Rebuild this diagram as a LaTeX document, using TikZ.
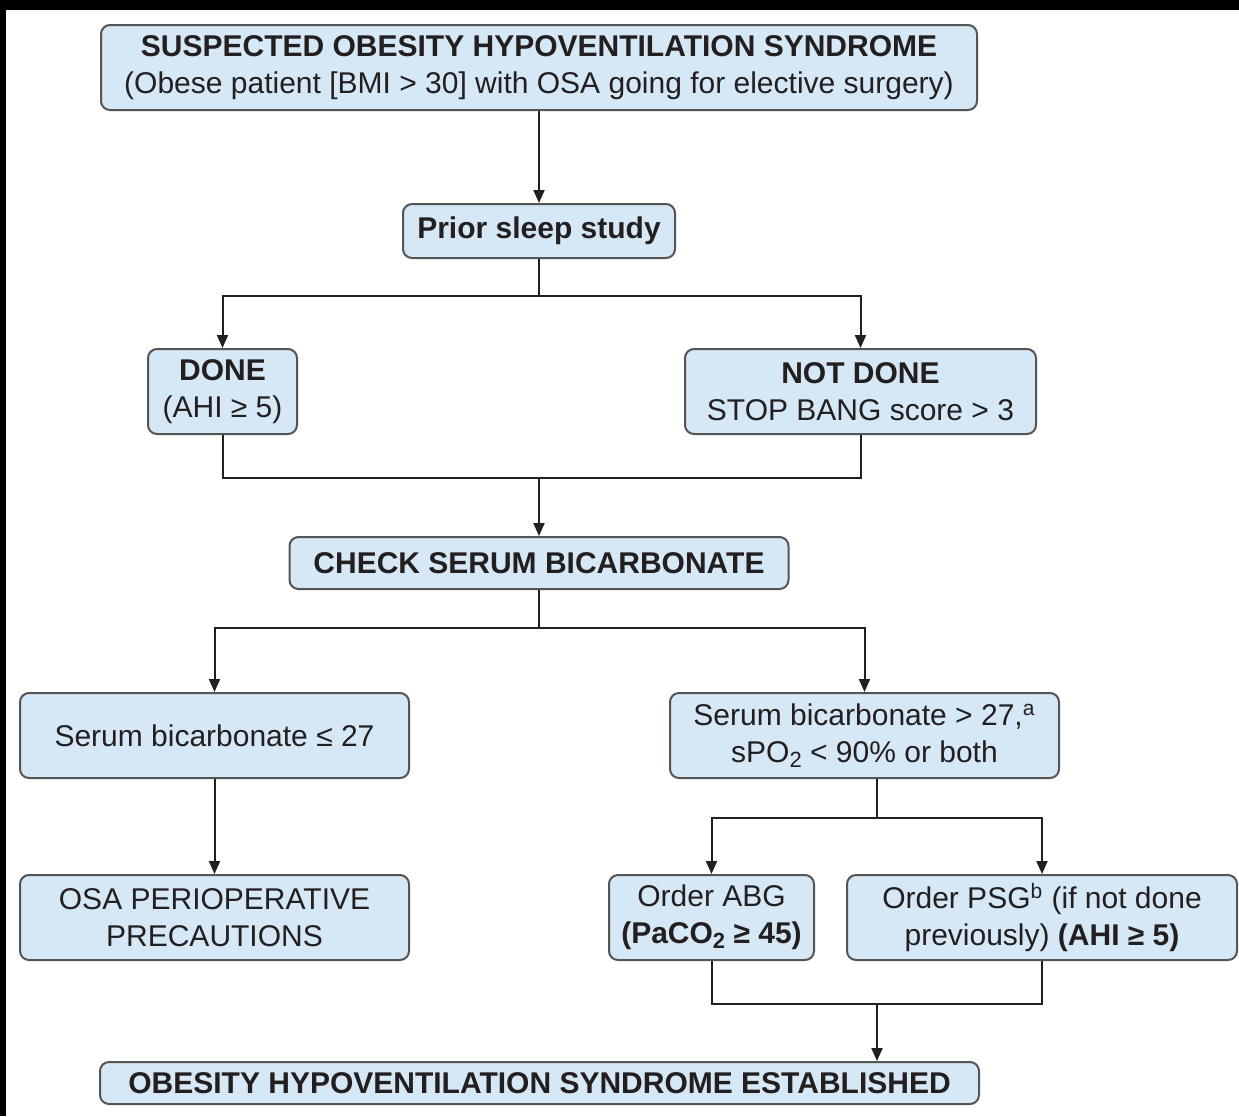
\documentclass[tikz,border=0pt]{standalone}
\usepackage{fontspec}
\setmainfont{Liberation Sans}
\usetikzlibrary{arrows.meta}
\definecolor{boxfill}{HTML}{D6E8F5}
\definecolor{boxline}{HTML}{555555}
\definecolor{ink}{HTML}{231F20}
\newcommand{\subtwo}{\raisebox{-0.3ex}{\fontsize{11}{11}\selectfont 2}}
\begin{document}
\begin{tikzpicture}[x=0.5pt,y=-0.5pt,
  fbox/.style={draw=boxline, fill=boxfill, line width=1pt, rounded corners=4.5pt,
    inner sep=0pt, align=center, font=\fontsize{15}{18.5}\selectfont, text=ink},
  conn/.style={draw=ink, line width=1pt},
  arr/.style={conn, -{Triangle[length=6.5pt,width=5.5pt]}}]
\fill[black] (0,0) rectangle (1239,1116);
\fill[white] (6,10) rectangle (1239,1116);
\useasboundingbox (0,0) rectangle (1239,1116);

\node[fbox, minimum width=438pt, minimum height=42.5pt] (top) at (539,67.5)
  {\textbf{SUSPECTED OBESITY HYPOVENTILATION SYNDROME}\\(Obese patient [BMI > 30] with OSA going for elective surgery)};
\node[fbox, minimum width=136pt, minimum height=27pt] (prior) at (539,231) {\textbf{Prior sleep study}};
\node[fbox, minimum width=74.5pt, minimum height=42.5pt] (done) at (222.5,391.5) {\textbf{DONE}\\(AHI ≥ 5)};
\node[fbox, minimum width=175.5pt, minimum height=42.5pt] (notdone) at (860.5,391.5) {\textbf{NOT DONE}\\STOP BANG score > 3};
\node[fbox, minimum width=249.5pt, minimum height=26pt] (check) at (539,563) {\textbf{CHECK SERUM BICARBONATE}};
\node[fbox, minimum width=194.5pt, minimum height=42.5pt] (le27) at (214.5,735.5) {Serum bicarbonate ≤ 27};
\node[fbox, minimum width=194.5pt, minimum height=42.5pt] (gt27) at (864.5,735.5) {Serum bicarbonate > 27,\textsuperscript{a}\\sPO\subtwo\ < 90\% or both};
\node[fbox, minimum width=194.5pt, minimum height=42.5pt] (osa) at (214.5,917.5) {OSA PERIOPERATIVE\\PRECAUTIONS};
\node[fbox, minimum width=102.5pt, minimum height=42.5pt] (abg) at (711.5,917.5) {Order ABG\\\textbf{(PaCO\subtwo\ ≥ 45)}};
\node[fbox, minimum width=195pt, minimum height=42.5pt] (psg) at (1042,917.5) {Order PSG\textsuperscript{b} (if not done\\previously) \textbf{(AHI ≥ 5)}};
\node[fbox, minimum width=439.5pt, minimum height=21pt] (est) at (539.5,1083) {\textbf{OBESITY HYPOVENTILATION SYNDROME ESTABLISHED}};

\coordinate (j1) at (539,296);
\coordinate (j2) at (539,478);
\coordinate (j3) at (539,628);
\coordinate (j4) at (877,818);
\coordinate (j5) at (877,1004);

\draw[arr] (top.south) -- (prior.north);
\draw[conn] (prior.south) -- (j1);
\draw[arr] (j1) -| (done.north);
\draw[arr] (j1) -| (notdone.north);
\draw[conn] (done.south) |- (j2);
\draw[conn] (notdone.south) |- (j2);
\draw[arr] (j2) -- (check.north);
\draw[conn] (check.south) -- (j3);
\draw[arr] (j3) -| (le27.north);
\draw[arr] (j3) -| (gt27.north);
\draw[arr] (le27.south) -- (osa.north);
\draw[conn] (gt27.south -| j4) -- (j4);
\draw[arr] (j4) -| (abg.north);
\draw[arr] (j4) -| (psg.north);
\draw[conn] (abg.south) |- (j5);
\draw[conn] (psg.south) |- (j5);
\draw[arr] (j5) -- (j5 |- est.north);
\end{tikzpicture}
\end{document}
